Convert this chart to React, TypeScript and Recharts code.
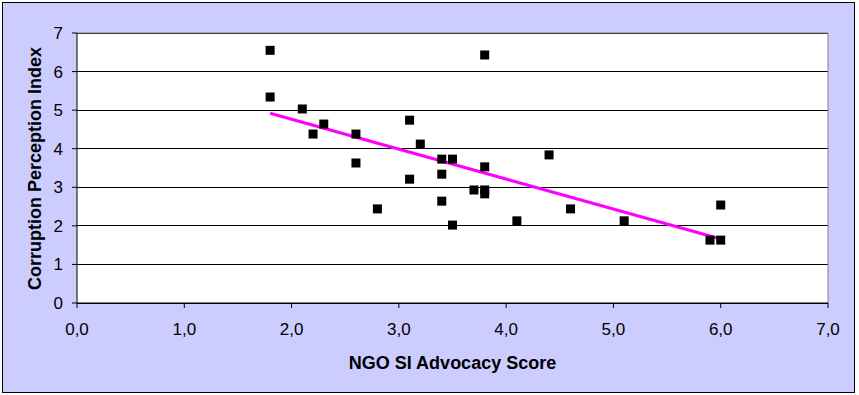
import {
  ScatterChart,
  Scatter,
  XAxis,
  YAxis,
  CartesianGrid,
  ReferenceLine,
} from "recharts";

// NGO SI advocacy score per country
const advocacy = [
  1.8, 1.8, 2.1, 2.3, 2.2, 2.6, 2.6, 2.8, 3.1, 3.1, 3.2, 3.4, 3.4, 3.4, 3.5,
  3.5, 3.7, 3.8, 3.8, 3.8, 3.8, 4.1, 4.4, 4.6, 5.1, 5.9, 6.0, 6.0,
];
// corruption perception index per country
const cpi = [
  6.55, 5.34, 5.03, 4.64, 4.38, 4.38, 3.63, 2.44, 4.74, 3.21, 4.12, 3.73, 3.34,
  2.64, 3.73, 2.02, 2.93, 6.43, 3.53, 2.93, 2.83, 2.13, 3.84, 2.44, 2.13, 1.63,
  1.63, 2.54,
];
// linear trend end points
const trendX = [1.8, 6.0];
const trendY = [4.92, 1.66];

const xTicks = [0, 1, 2, 3, 4, 5, 6, 7];
const yTicks = [0, 1, 2, 3, 4, 5, 6, 7];

const points = advocacy.map((x, i) => ({ x, y: cpi[i] }));
const trend = trendX.map((x, i) => ({ x, y: trendY[i] }));

const Square = (props: any) => {
  const { cx, cy } = props;
  if (cx == null || cy == null) return null;
  return <rect x={cx - 4.5} y={cy - 4.5} width={9} height={9} fill="#000" />;
};

const NoDot = () => null;

const font = "Arial, 'Liberation Sans', sans-serif";

export default function App() {
  return (
    <div style={{ position: "absolute", left: 0, top: 0, width: 859, height: 395 }}>
      <div
        style={{
          position: "absolute",
          left: 2,
          top: 2,
          width: 851,
          height: 389,
          border: "1px solid #000",
          background: "#ccccff",
        }}
      />
      <div style={{ position: "absolute", left: 0, top: 0 }}>
        <ScatterChart
          width={859}
          height={395}
          margin={{ top: 33, right: 31, bottom: 62, left: 37 }}
          style={{ fontFamily: font }}
        >
          <CartesianGrid
            vertical={false}
            stroke="#000"
            fill="#fff"
            fillOpacity={1}
            shapeRendering="crispEdges"
          />
          <XAxis
            type="number"
            dataKey="x"
            domain={[0, 7]}
            ticks={xTicks}
            interval={0}
            height={30}
            stroke="#000"
            tickSize={5}
            tickMargin={15}
            tickFormatter={(v: number) => v.toFixed(1).replace(".", ",")}
            tick={{ fill: "#000", fontSize: 17 }}
            label={{
              value: "NGO SI Advocacy Score",
              position: "insideBottom",
              offset: -36,
              style: { fontWeight: "bold", fontSize: 18, fill: "#000" },
            }}
          />
          <YAxis
            type="number"
            dataKey="y"
            domain={[0, 7]}
            ticks={yTicks}
            interval={0}
            width={40}
            stroke="#000"
            tickSize={5}
            tickMargin={9}
            tick={{ fill: "#000", fontSize: 17 }}
            label={{
              value: "Corruption Perception Index",
              angle: -90,
              position: "insideLeft",
              dx: -7,
              dy: 122,
              style: { fontWeight: "bold", fontSize: 18, fill: "#000" },
            }}
          />
          <ReferenceLine y={7} stroke="#808080" />
          <ReferenceLine x={7} stroke="#808080" />
          <Scatter
            data={trend}
            line={{ stroke: "#ff00ff", strokeWidth: 3 }}
            shape={NoDot}
            isAnimationActive={false}
          />
          <Scatter data={points} shape={Square} isAnimationActive={false} />
        </ScatterChart>
      </div>
    </div>
  );
}
